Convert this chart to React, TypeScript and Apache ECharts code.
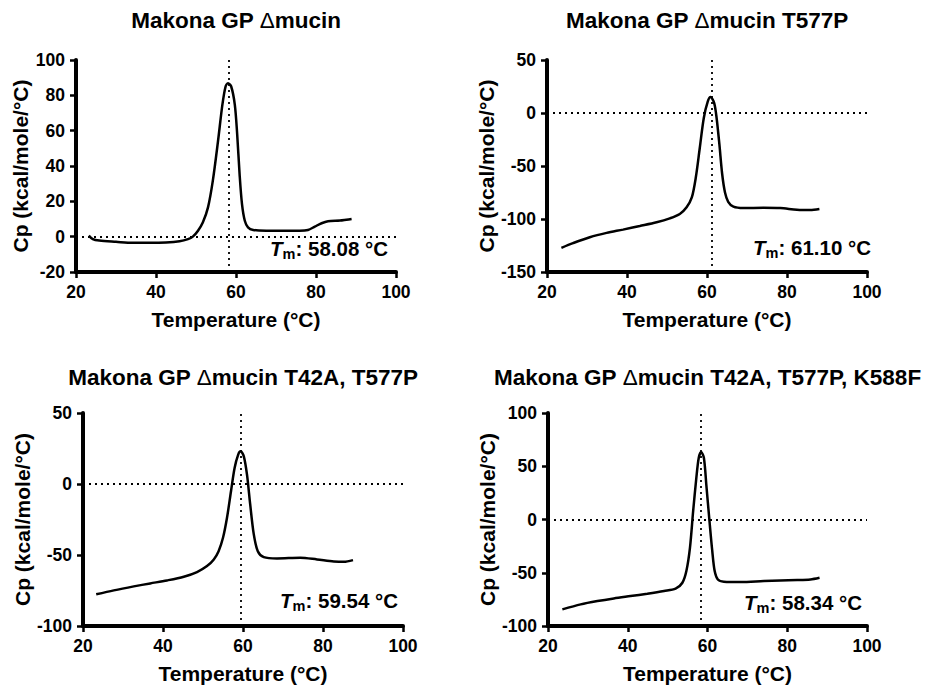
import React, { useEffect, useRef } from "react";
import * as echarts from "echarts";

const titles = [
  "Makona GP {d|Δ}mucin",
  "Makona GP {d|Δ}mucin T577P",
  "Makona GP {d|Δ}mucin T42A, T577P",
  "Makona GP {d|Δ}mucin T42A, T577P, K588F",
];
const tmValues = [58.08, 61.1, 59.54, 58.34];
const tmLabels = ["58.08 °C", "61.10 °C", "59.54 °C", "58.34 °C"];

const xTicks = { min: 20, max: 100, interval: 20 };
const yRanges = [
  { min: -20, max: 100, interval: 20 },
  { min: -150, max: 50, interval: 50 },
  { min: -100, max: 50, interval: 50 },
  { min: -100, max: 100, interval: 50 },
];

const temp1 = [23.2, 24.2, 25.8, 30.0, 34.2, 38.4, 42.5, 45.9, 48.0, 49.2, 50.5, 51.7, 53.0, 54.2, 55.5, 56.6, 57.4, 58.0, 58.8, 59.7, 60.3, 60.9, 61.5, 62.2, 63.0, 64.3, 67.6, 71.8, 75.9, 78.0, 79.7, 81.4, 83.0, 86.0, 87.6, 88.9];
const cp1 = [0.6, -1.4, -2.2, -2.9, -3.5, -3.5, -3.3, -2.6, -1.4, 0, 3.4, 8, 16.6, 31.6, 54, 74.7, 85, 86.9, 85, 74.7, 57.8, 35.3, 18.4, 9, 5.3, 3.8, 3.4, 3.4, 3.4, 3.8, 5.7, 7.6, 8.7, 9.1, 9.6, 10];

const temp2 = [23.6, 26.5, 30.7, 34.9, 39.0, 43.2, 47.4, 50.7, 53.2, 54.9, 56.2, 57.2, 58.2, 59.2, 60.2, 60.9, 61.8, 62.4, 63.1, 63.8, 64.5, 65.3, 66.6, 69.1, 74.1, 78.3, 82.5, 85.8, 88.1];
const cp2 = [-127.2, -122.8, -117.2, -113.1, -110, -106.6, -103.1, -99.4, -95.3, -89, -79.7, -60.9, -32.8, -4.7, 10.9, 15, 9.4, -4.7, -29.7, -57.8, -75, -83.8, -88.4, -89.7, -89.4, -89.7, -91.3, -91.6, -90.6];

const temp3 = [23.3, 27.7, 32.7, 36.8, 41.0, 45.2, 48.5, 51.0, 52.7, 53.9, 55.0, 56.0, 57.0, 57.9, 58.8, 59.4, 60.2, 61.0, 61.8, 62.7, 63.7, 65.2, 68.5, 74.3, 78.5, 82.7, 85.2, 87.5];
const cp3 = [-77.7, -74.9, -72.1, -70.0, -67.9, -65.3, -62.0, -57.8, -53.1, -47.3, -37.9, -23.8, -5.1, 11.3, 20.7, 23.0, 19.5, 6.6, -14.4, -35.5, -47.3, -51.5, -52.4, -51.9, -53.1, -54.5, -54.8, -53.6];

const temp4 = [23.6, 28.2, 32.4, 36.5, 40.7, 44.9, 49.1, 52.0, 53.7, 54.7, 55.6, 56.4, 57.2, 57.8, 58.4, 59.1, 59.7, 60.5, 61.2, 61.8, 62.6, 64.1, 68.3, 74.1, 78.3, 82.5, 85.8, 88.1];
const cp4 = [-84.4, -79.7, -76.6, -74.1, -71.9, -69.7, -67.2, -65, -59.4, -48.4, -26.6, 7.8, 39.1, 57.8, 63.4, 57.8, 32.8, -1.6, -29.7, -48.4, -56.3, -58.4, -58.8, -57.8, -57.2, -56.9, -56.3, -54.7];

const temps = [temp1, temp2, temp3, temp4];
const cps = [cp1, cp2, cp3, cp4];

const FONT = "'Liberation Sans', Arial, Helvetica, sans-serif";

const grids = [
  { left: 76, top: 60, width: 320, height: 212 },
  { left: 547, top: 60, width: 320, height: 212 },
  { left: 83, top: 413, width: 320, height: 213 },
  { left: 548, top: 413, width: 319, height: 213 },
];
const titleY = [20, 20, 377, 377];
const tmPos = [
  [388, 248],
  [871, 247],
  [398, 600],
  [862, 602],
];

export default function App() {
  const ref = useRef<HTMLDivElement>(null);
  useEffect(() => {
    if (!ref.current) return;
    const chart = echarts.init(ref.current, undefined, { renderer: "svg" });
    const axisLine = { show: true, onZero: false, lineStyle: { color: "#000", width: 4 } };
    const axisTick = { show: true, length: 6, lineStyle: { color: "#000", width: 2.5 } };
    const xAxis = grids.map((_, i) => ({
      type: "value",
      gridIndex: i,
      min: xTicks.min,
      max: xTicks.max,
      interval: xTicks.interval,
      name: "Temperature (°C)",
      nameLocation: "middle",
      nameGap: 37,
      nameTextStyle: { fontFamily: FONT, fontWeight: "bold", fontSize: 21, color: "#000" },
      axisLine: axisLine,
      axisTick: axisTick,
      axisLabel: { fontFamily: FONT, fontWeight: "bold", fontSize: 17.5, color: "#000", margin: 11 },
      splitLine: { show: false },
    }));
    const yAxis = grids.map((_, i) => ({
      type: "value",
      gridIndex: i,
      min: yRanges[i].min,
      max: yRanges[i].max,
      interval: yRanges[i].interval,
      name: "Cp (kcal/mole/°C)",
      nameLocation: "middle",
      nameGap: 45,
      nameRotate: 90,
      nameTextStyle: { fontFamily: FONT, fontWeight: "bold", fontSize: 21, color: "#000" },
      axisLine: axisLine,
      axisTick: axisTick,
      axisLabel: { fontFamily: FONT, fontWeight: "bold", fontSize: 17.5, color: "#000", margin: 11 },
      splitLine: { show: false },
    }));
    const series = grids.map((_, i) => ({
      type: "line",
      xAxisIndex: i,
      yAxisIndex: i,
      data: temps[i].map((t, j) => [t, cps[i][j]]),
      showSymbol: false,
      smooth: 0.3,
      lineStyle: { color: "#000", width: 2.5 },
      markLine: {
        silent: true,
        symbol: ["none", "none"],
        label: { show: false },
        lineStyle: { color: "#000", width: 1.8, type: [2, 4] },
        data: [{ xAxis: tmValues[i] }, { yAxis: 0 }],
      },
    }));
    const graphic: any[] = [];
    grids.forEach((g, i) => {
      graphic.push({
        type: "text",
        x: g.left + g.width / 2,
        y: titleY[i],
        style: {
          text: titles[i],
          align: "center",
          verticalAlign: "middle",
          fontFamily: FONT,
          fontWeight: "bold",
          fontSize: 22.5,
          fill: "#000",
          rich: {
            d: { fontFamily: FONT, fontWeight: "normal", fontSize: 22.5, fill: "#000" },
          },
        },
      });
      graphic.push({
        type: "text",
        x: tmPos[i][0],
        y: tmPos[i][1],
        style: {
          text: "{t|T}{s|m}{r|: " + tmLabels[i] + "}",
          align: "right",
          verticalAlign: "middle",
          fontFamily: FONT,
          fill: "#000",
          rich: {
            t: { fontFamily: FONT, fontWeight: "bold", fontStyle: "italic", fontSize: 20.5, lineHeight: 26, fill: "#000" },
            s: { fontFamily: FONT, fontWeight: "bold", fontSize: 14.5, lineHeight: 26, verticalAlign: "bottom", fill: "#000" },
            r: { fontFamily: FONT, fontWeight: "bold", fontSize: 20.5, lineHeight: 26, fill: "#000" },
          },
        },
      });
    });
    chart.setOption({
      animation: false,
      backgroundColor: "#fff",
      grid: grids.map((g) => ({ ...g, containLabel: false })),
      xAxis,
      yAxis,
      series,
      graphic,
    });
    return () => chart.dispose();
  }, []);
  return (
    <div
      ref={ref}
      style={{ position: "absolute", left: 0, top: 0, width: 928, height: 690, background: "#fff" }}
    />
  );
}
